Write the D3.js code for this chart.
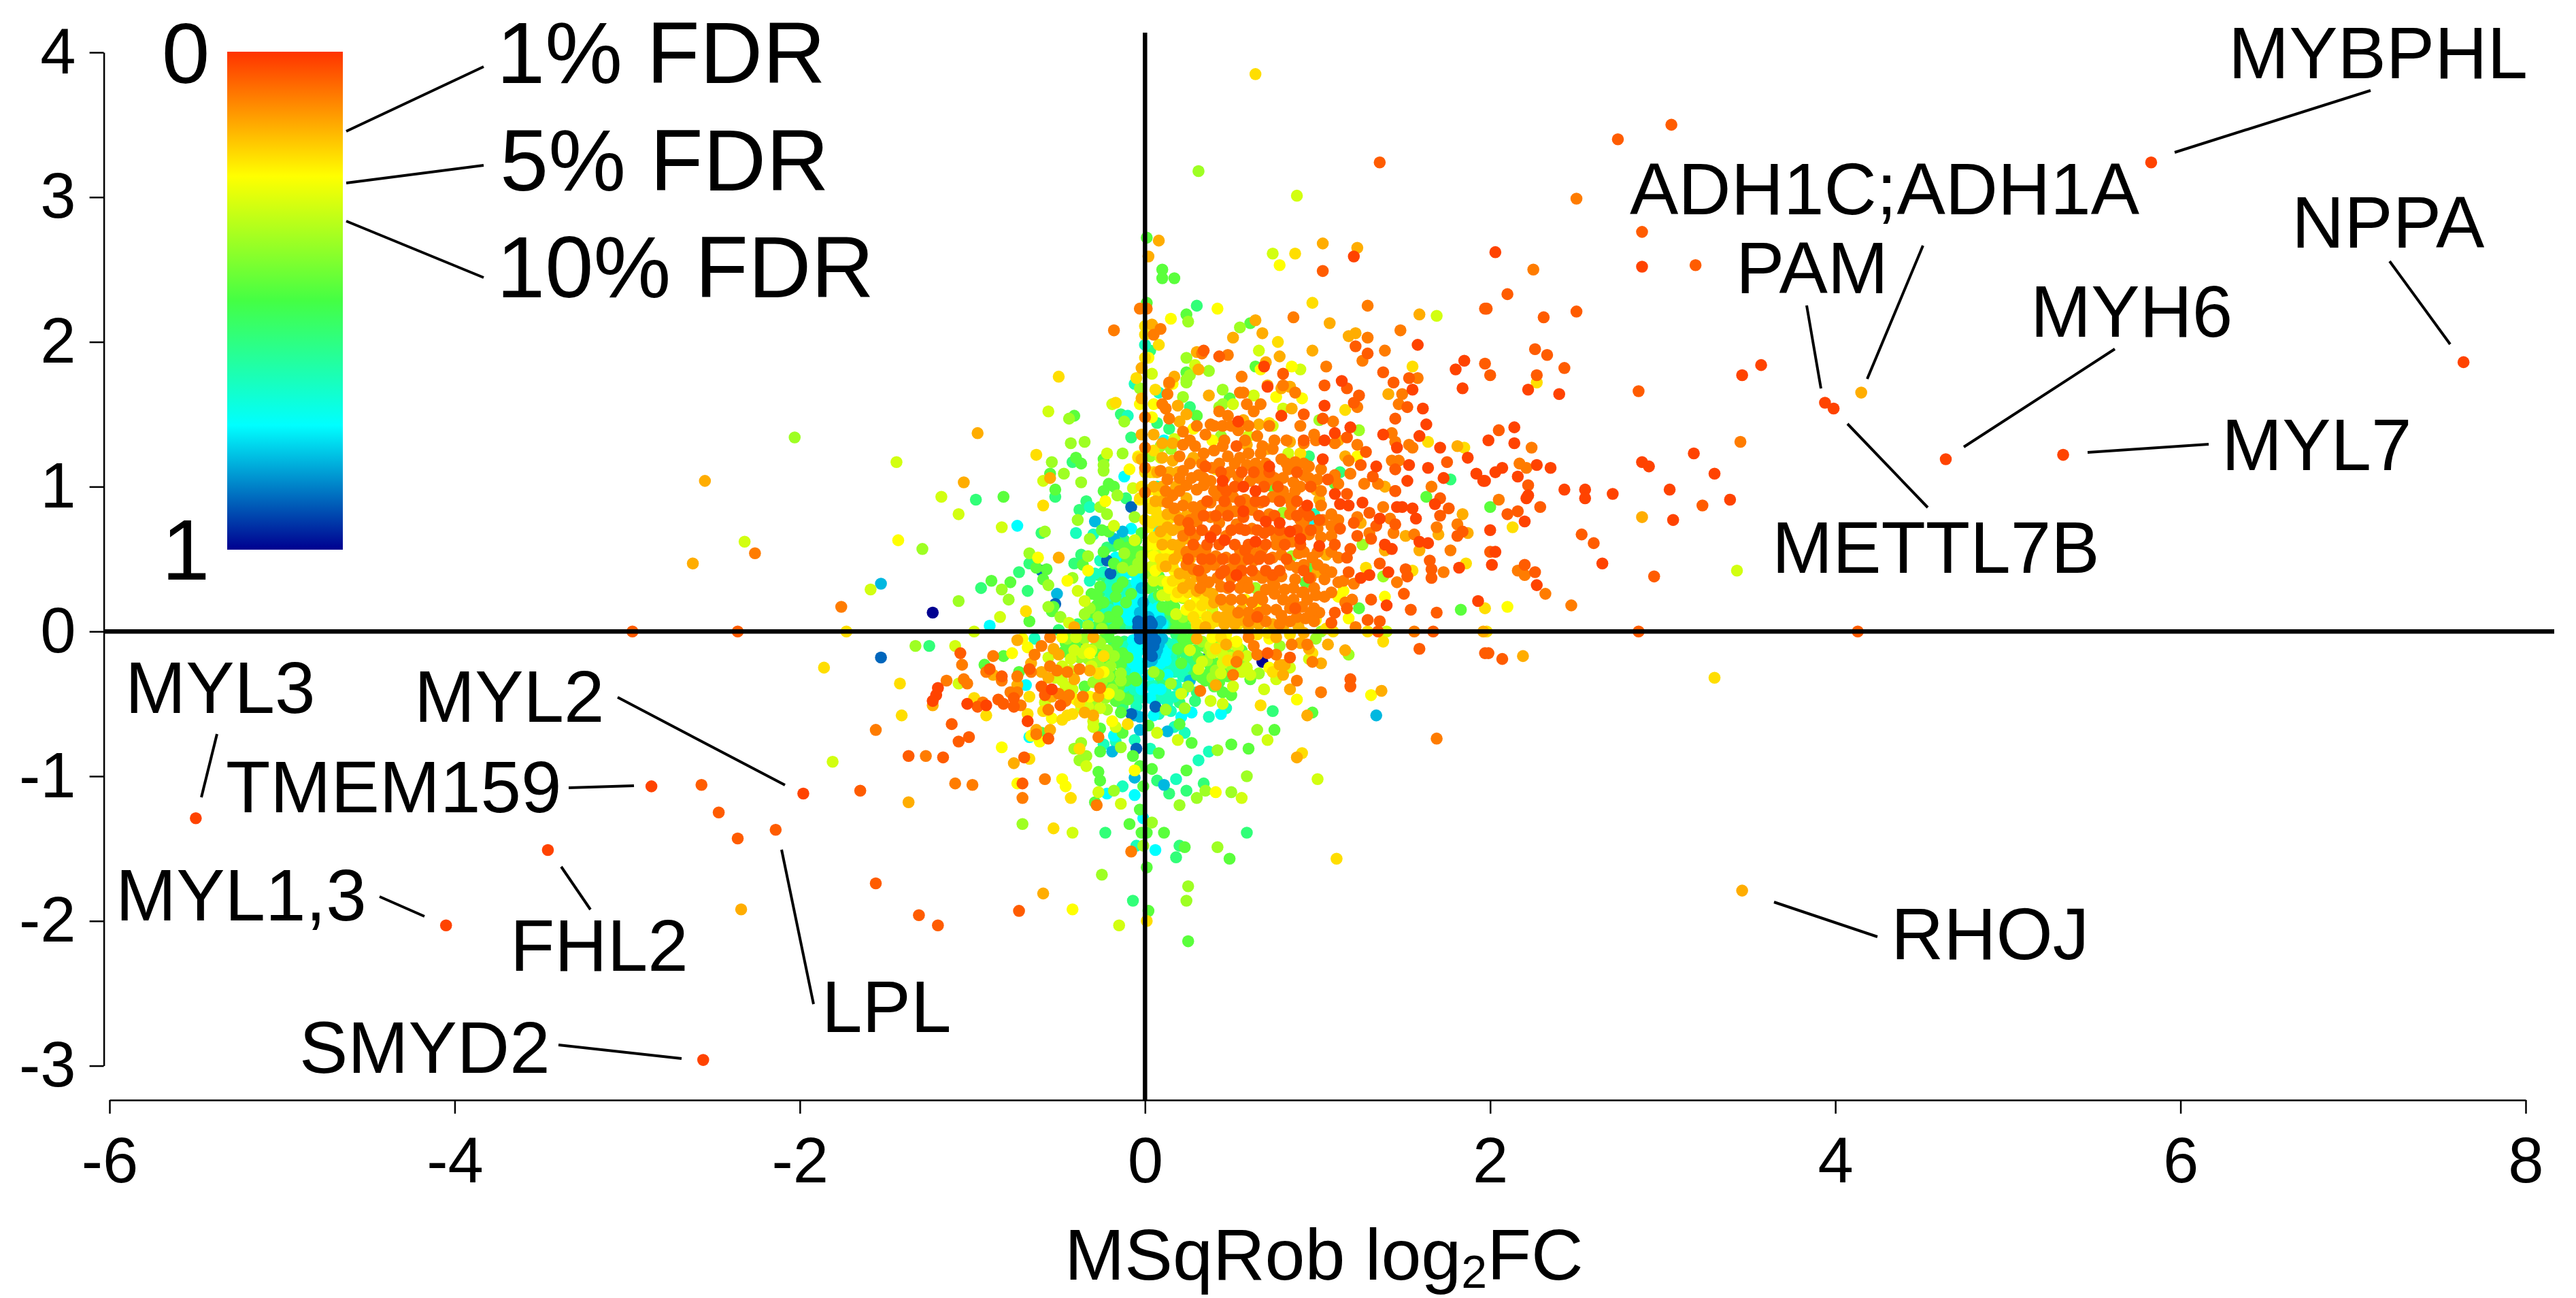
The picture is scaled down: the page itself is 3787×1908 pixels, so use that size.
<!DOCTYPE html>
<html>
<head>
<meta charset="utf-8">
<script src="https://cdn.jsdelivr.net/npm/d3@7"></script>
<style>
  html, body { margin: 0; background: #fff; }
  text { font-family: "Liberation Sans", sans-serif; fill: #000; }
</style>
</head>
<body>
<svg id="chart" width="3787" height="1908"></svg>
<script>
// values, [log2FC, y] per FDR colour band
const deepPts = [[1.84,1.68],[1.55,1.67],[1.61,1.54],[1.71,1.27],[1.87,1.20],[1.53,1.15],[1.64,1.13],[1.73,1.06],[1.52,1.04],[1.92,1.09],[1.96,1.04],[1.34,1.14],[1.63,1.43],[1.46,1.27],[1.03,1.19],[1.04,1.32],[1.04,1.56],[.79,1.49],[.54,1.45],[1.10,1.37],[1.19,1.41],[1.38,1.36],[1.59,1.35],[1.10,.95],[.72,1.14],[.45,1.04],[.57,1.00],[.64,.97],[1.13,.88],[1.18,.87],[1.46,.86],[1.49,.86],[1.55,.85],[1.26,.89],[1.68,.88],[.94,.87],[.57,.83],[.70,.76],[.78,.75],[1.36,.78],[1.57,.78],[.84,.69],[.38,.65],[.46,.63],[.64,.62],[.90,.64],[1.01,.59],[1.39,.60],[1.43,.57],[1.59,.62],[1.64,.61],[.53,.39],[1.30,.39],[1.25,.37],[1.41,.41],[1.40,.18],[1.93,.21],[1.82,.44],[1.14,1.73],[1.58,1.98],[1.21,2.59],[.69,1.83],[.71,1.69],
  [2.22,1.67],[2.40,1.64],[3.18,1.23],[3.30,1.09],[3.39,.91],[3.06,.77],[3.04,.98],[2.88,1.17],[2.92,1.14],[2.71,.95],[2.55,.98],[2.55,.92],[2.43,.98],[2.35,1.13],[2.27,1.15],[2.07,1.13],[2.03,1.10],[2.16,1.07],[2.14,1.30],[2.14,1.41],[1.99,1.32],[1.97,1.04],[2.22,.94],[2.21,.92],[2.20,.76],[2.00,.70],[2.03,.55],[2.01,.46],[2.65,.47],[2.27,.32],[1.80,1.81],[1.85,1.87],[3.46,1.77],[3.57,1.84],[2.88,2.52],[2.03,2.62],[5.83,3.24],[7.64,1.86],[3.94,1.58],[3.99,1.54],[4.64,1.19],[5.32,1.22],[-5.50,-1.29],[-4.05,-2.03],[-3.46,-1.51],[-2.86,-1.07],[-2.56,-2.96],[-1.98,-1.12],[-1.20,-.39],[-1.21,-.44],[-1.23,-.48],[-.92,-.51],[-1.03,-.50],[-.68,-.62],[-.54,-.40]]
const redPts = [[1.24,1.63],[1.21,1.58],[.92,1.50],[1.03,1.47],[1.45,1.47],[1.17,1.34],[.92,1.32],[.53,1.28],[1.28,1.24],[1.75,1.17],[1.25,1.15],[.35,1.14],[1.32,1.07],[1.06,1.05],[.47,.97],[1.17,.95],[1.45,.97],[1.76,.85],[.92,.83],[1.71,.80],[1.30,.82],[1.01,.77],[.25,.75],[1.45,.74],[1.34,.73],[1.21,.75],[1.13,.71],[.69,.68],[.55,.71],[1.84,.69],[1.81,.66],[1.23,.66],[1.31,.64],[1.10,.60],[1.19,.57],[.58,.56],[.67,.52],[1.17,.51],[.25,.50],[1.65,.49],[1.66,.43],[1.66,.37],[1.36,.47],[1.51,.43],[1.52,.38],[1.18,.41],[.95,.37],[.74,.39],[.44,.40],[.49,.31],[1.50,.26],[1.31,.22],[1.54,.15],[1.69,.13],[1.17,.16],[1.10,.13],[.87,.16],[1.08,.06],[.65,.10],[1.36,.07],[1.29,.08],[1.52,1.55],[1.45,.97],[1.71,.92],[1.45,1.12],[.34,1.94],[.43,1.90],[1.04,1.70],[1.17,1.68],[1.44,1.72],[1.97,1.85],[1.97,2.23],[1.53,1.75],[1.38,1.79],[1.03,2.49],[1.36,3.24],[.80,1.78],[1.22,1.97],[1.29,1.92],[2.86,1.66],[2.05,1.39],[2.22,1.01],[2.29,.86],[2.16,.83],[2.10,.81],[2.00,.55],[2.53,.67],[2.60,.61],[2.95,.38],[2.20,.46],[2.26,.41],[3.23,.87],[2.86,0],[1.99,-.15],[2.07,-.19],[2.74,3.40],[3.05,3.50],[2.88,2.76],[3.19,2.53],[2.10,2.33],[1.98,2.23],[2.31,2.17],[2.50,2.21],[2.26,1.95],[2.33,1.91],[2.43,1.82],[2.00,1.77],[2.27,1.77],[4.13,0],[1.67,0],[1.35,0],[1.59,-.12],[1.97,-.15],[.71,-.15],[.84,-.18],[1.19,-.33],[1.19,-.38],[-2.97,0],[-2.57,-1.06],[-2.47,-1.25],[-2.36,-1.43],[-2.14,-1.37],[-1.65,-1.10],[-1.07,-.15],[-1.12,-.64],[-1.02,-.73],[-1.08,-.76],[-1.37,-.86],[-1.17,-.87],[-.70,-.87],[-.71,-1.05],[-.73,-1.93],[-1.56,-1.74],[-1.31,-1.96],[-1.20,-2.03],[-.90,-.26],[-.83,-.31],[-.67,-.26],[-.85,-.47],[-.82,-.50],[-.97,-.52],[-.76,-.46],[-.76,-.52],[-.58,-.44],[-.60,-.38],[-.56,-.74],[-.49,-.51],[-2.36,0],
  [.36,.90],[.46,.90],[.55,.90],[.64,.90],[.69,.90],[.78,.90],[.88,.90],[.34,.80],[.41,.80],[.48,.80],[.57,.79],[.66,.80],[.75,.80],[.88,.80],[.95,.80],[.26,.70],[.33,.70],[.41,.70],[.50,.70],[.58,.70],[.65,.70],[.72,.70],[.78,.70],[.88,.70],[.96,.70],[.28,.60],[.36,.60],[.43,.60],[.52,.60],[.60,.60],[.70,.60],[.81,.60],[.90,.60],[.33,.50],[.38,.50],[.45,.50],[.52,.50],[.60,.50],[.66,.50],[.72,.50],[.82,.50],[.31,.42],[.46,.42],[.56,.42],[.62,.42],[.70,.42],[.78,.42],[.92,.42],[.45,1.00],[.52,1.00],[.69,1.00],[.77,1.00],[.96,1.00],[.44,1.10],[.56,1.10],[.63,1.10],[.72,1.10],[.88,1.10]]
const orangePts = [[.10,1.57],[.12,1.54],[.14,1.47],[.13,1.64],[.22,1.38],[.22,1.29],[.29,1.28],[.35,1.36],[.38,1.43],[.43,1.52],[.45,1.42],[.48,1.49],[.55,1.65],[.57,1.65],[.59,1.57],[.63,1.52],[.67,1.57],[.54,1.39],[.65,1.35],[.68,1.28],[.87,1.65],[.98,1.36],[.99,1.32],[1.09,1.45],[1.23,1.55],[1.49,1.64],[1.47,1.57],[1.43,1.37],[1.45,1.31],[1.53,1.29],[1.55,1.27],[1.23,1.29],[1.18,1.18],[1.43,1.18],[1.47,1.18],[1.19,1.09],[1.35,1.02],[1.27,1.02],[1.66,1.00],[1.38,.86],[1.23,.79],[1.42,.78],[1.44,.68],[1.30,.68],[1.56,.67],[1.69,.72],[1.81,.74],[1.77,.56],[1.46,.34],[1.73,.41],[1.21,.33],[1.15,.35],[1.12,.34],[1.16,.20],[1.20,.22],[.98,.16],[1.01,.13],[1.08,.27],[1.04,.24],[.99,.25],[.91,.27],[.80,.22],[.75,.26],[.70,.29],[.62,.20],[.66,.24],[.70,.15],[.79,.11],[.84,.16],[.91,.17],[.88,.10],[.93,.09],
  [.20,1.21],[.34,1.23],[.40,1.25],[.45,1.28],[.48,1.21],[.55,1.20],[.60,1.23],[.67,1.23],[.74,1.26],[.79,1.19],[.87,1.17],[.95,1.14],[.09,1.11],[.22,1.11],[.31,1.08],[.39,1.13],[.49,1.10],[.59,1.15],[.67,1.10],[.75,1.06],[.83,1.12],[.92,1.08],[1.00,1.05],[.13,1.05],[.24,1.01],[.30,.98],[.34,1.01],[.38,1.04],[.54,1.07],[.61,1.04],[.71,1.04],[.86,1.03],[.90,1.00],[.16,.94],[.38,.89],[.42,.94],[.51,.93],[.58,.91],[.67,.89],[.74,.93],[.79,.96],[.83,.92],[.85,.87],[.13,.89],[.17,.85],[.28,.86],[.30,.80],[.38,.79],[.44,.84],[.52,.83],[.62,.84],[.72,.81],[.84,.81],[1.08,.81],[.30,.76],[.43,.75],[.53,.74],[.62,.71],[.76,.65],[.81,.65],[.92,.70],[1.00,.71],[1.08,.73],[.30,.57],[.35,.56],[.41,.52],[.47,.51],[.55,.56],[.68,.57],[.76,.60],[.85,.62],[.95,.67],[1.02,.65],[.28,.43],[.35,.44],[.42,.49],[.49,.43],[.57,.49],[.63,.49],[.74,.51],[.79,.53],[.89,.54],[.97,.51],[1.12,.51],[.37,.34],[.44,.31],[.59,.34],[.64,.39],[.79,.38],[.87,.36],[.88,.44],[1.04,.43],[1.08,.41],[1.04,.36],[.81,.29],[.92,.27],
  [1.22,.03],[1.56,0],[.85,-.09],[.94,-.09],[.60,-.04],[.63,-.10],[.65,-.16],[.76,-.16],[.97,-.21],[.53,-.21],[.51,-.30],[.32,-.41],[.88,-.34],[1.02,-.42],[1.69,-.74],[.86,2.17],[.01,2.23],[1.48,2.08],[1.29,2.25],[1.29,2.03],[1.26,1.87],[1.39,1.94],[.33,1.92],[.48,1.91],[.14,1.72],[1.05,1.83],[.56,1.76],[.80,1.70],[1.58,1.75],[.09,2.09],[.05,2.05],[3.45,1.31],[2.21,1.13],[2.17,1.16],[2.24,1.27],[2.05,.91],[2.16,.42],[2.20,.39],[2.32,.26],[2.47,.18],[2.50,2.99],[2.25,2.50],[-.18,2.08],[-.03,2.23],[0,1.48],[0,1.27],[0,1.13],[0,.96],
  [-2.26,.54],[-1.76,.17],[-1.56,-.68],[-1.27,-.86],[-1.10,-1.05],[-1.00,-1.06],[-.58,-1.02],[-.71,-1.15],[-.28,-1.20],[-.08,-1.52],[-1.06,-.23],[-1.15,-.34],[-.27,-.73],[-.36,-.45],[-.26,-.39],[-.45,-.28],[-.51,-.27],[-.55,-.24],[-.64,-.16],[-.60,-.10],[-.55,-.04],[-.88,-.17],[-.83,-.34],[-.66,-.28],[-.74,-.31],[-.74,-.42],[-.72,-.51],[-1.05,-.33],[-1.03,-.36],[-.63,-.71],[-.56,-.54],[-.46,-.48],[-.50,-.43],[-.44,-.44],[-.38,-.26],[-.94,-.49],[-.92,-.28],[-.78,-.42],
  [.30,1.42],[.40,1.42],[.50,1.42],[.60,1.42],[.72,1.42],[.90,1.42],[.26,1.32],[.46,1.32],[.58,1.32],[.75,1.32],[.82,1.32],[.92,1.30],[1.10,1.30],[.26,1.16],[.33,1.16],[.43,1.16],[.52,1.16],[.64,1.16],[.70,1.16],[.82,1.16],[.92,1.16],[1.02,1.12],[.20,1.06],[.27,1.06],[.34,1.06],[.46,1.06],[.66,1.06],[.80,1.06],[.95,1.06],[1.10,1.08],[.12,.97],[.20,.97],[.40,.97],[.80,.97],[.87,.97],[1.02,.97],[1.12,1.02],[.22,.87],[.33,.87],[.47,.87],[.60,.87],[.92,.76],[1.02,.87],[.20,.77],[.26,.77],[.90,.77],[1.03,.77],[1.12,.77],[.22,.66],[.29,.66],[.38,.66],[.47,.66],[1.08,.66],[.24,.55],[.30,.55],[.62,.55],[.92,.55],[1.00,.55],[1.08,.55],[.24,.46],[.40,.46],[.52,.46],[.84,.46],[.92,.46],[1.00,.46],[.33,.37],[.42,.37],[.50,.37],[.56,.37],[.68,.37],[.74,.35],[.96,.37],[.32,.30],[.48,.30],[.55,.30],[.60,.30],[.75,.32],[.86,.30],[.98,.30],[.44,.22],[.50,.22],[.56,.22],[.68,.22],[.86,.22],[.94,.22],[.54,.13],[.60,.13],[.66,.13],[.76,.15],[.96,.13],[.60,.07],[.70,.07],[.78,.05],[.84,.07],[.98,.07]]
const amberPts = [[.14,1.71],[.37,1.63],[.79,1.68],[.84,1.69],[.85,1.54],[.57,1.46],[.84,1.31],[1.12,1.32],[1.16,1.21],[1.41,1.64],[1.39,1.00],[1.25,.75],[1.51,.66],[1.70,.67],[1.87,.68],[1.84,.81],[1.59,.56],[1.39,.56],[.24,1.50],[.20,1.45],[.05,1.36],[.19,1.56],[.07,1.10],[.16,1.18],[.13,.81],[.09,.69],[.16,.70],[.23,.64],[.20,.54],[.12,.45],[.26,.33],[.32,.37],[.39,.26],[.49,.15],[.51,.10],[.56,.15],[.60,.04],[.80,.03],[.89,.03],[1.00,.41],[1.05,.53],[1.01,.91],[.99,.98],[.71,1.26],[.59,1.29],[.66,1.43],[.35,.03],[1.96,0],[1.81,1.28],
  [.90,-.08],[1.06,-.09],[1.16,-.13],[1.02,-.22],[.30,-.05],[.47,-.09],[.54,-.17],[.41,-.37],[.84,-.40],[1.37,-.41],[.88,-.87],[.94,-.58],[.78,-.23],[.81,-.23],[.80,-.30],[.92,-.01],[1.03,2.68],[1.23,2.65],[.08,2.70],[.02,2.59],[1.07,2.13],[.64,2.15],[.68,2.06],[.51,2.03],[.04,2.12],[1.18,2.04],[1.22,2.06],[.97,1.94],[.78,1.90],[.30,1.93],[.31,1.81],[.17,1.76],[.70,1.86],[.71,1.70],[.84,1.69],[1.59,2.19],[2.88,.79],[2.19,-.17],[4.15,1.65],[3.46,-1.79],[-.02,1.82],[-.02,1.61],[-.02,1.36],[-.02,1.19],
  [-2.55,1.04],[-2.62,.47],[-2.34,-1.92],[-.97,1.37],[-1.05,1.03],[-.55,1.06],[-.50,.51],[-.41,.03],[-1.37,-1.18],[-.76,-.91],[-.59,-1.81],[-.74,-.06],[-.30,-.04],[-.60,-.28],[-.56,-.32],[-.41,-.33],[-.50,-.16],[-.53,-.12],[-.88,-.30],[-.66,-.22],[-.74,-.37],[-.54,-.45],[-.63,-.68],[-.55,-.68],[-.35,-.56],[-.30,-.58],[-.27,-.45],[-.32,-.27],[-1.23,-.51],
  [.10,1.30],[.16,1.30],[.10,1.20],[.28,1.20],[.14,1.10],[.19,1.10],[.05,1.00],[.10,1.00],[.18,1.00],[.06,.90],[.10,.90],[.24,.92],[.18,.80],[.24,.80],[.13,.72],[.20,.72],[.10,.60],[.16,.60],[.20,.60],[.17,.50],[.26,.50],[.20,.40],[.24,.40],[.30,.38],[.22,.30],[.30,.28],[.36,.28],[.40,.20],[.46,.18],[.42,.10],[.46,.10],[.56,.08],[.46,.05],[.52,.05],[.66,.05],[.74,.05],[.76,-.04],[.95,-.12]]
const goldPts = [[.06,1.67],[1.16,1.53],[.72,1.44],[1.64,1.31],[1.85,1.27],[.90,1.23],[1.28,.44],[1.55,.42],[1.86,.47],[1.05,.53],[.41,1.12],[.14,.78],[.07,.81],[.26,.70],[.22,.52],[.35,.23],[.38,.19],[.41,.07],[.45,.07],[.48,.12],[.54,.05],[.33,.02],[1.05,.02],[1.09,0],[.71,-.01],[.84,-.02],[1.29,0],[1.38,-.07],[.97,-.15],[.48,-.20],[.41,-.12],[.44,-.04],[.74,-.28],[.67,-.51],[.91,-.84],[1.11,-1.57],[.64,3.85],[.87,2.61],[.97,2.27],[.77,2.00],[.08,1.98],[1.55,1.83],[2.27,1.72],[2.13,.72],[3.30,-.32],[1.97,.16],[1.98,0],[.01,-2.00],[-.50,1.76],[-.05,1.75],[0,1.89],[0,2.11],[0,2.05],[-.03,.92],[0,.77],[-1.73,0],[-1.86,-.25],[-1.42,-.36],[-1.41,-.58],[-.63,1.22],[-.59,.87],[-.17,1.58],[-.04,1.20],[-.69,.14],[-.67,-.88],[-.43,-1.15],[-.53,-1.36],[-.67,-.45],[-.92,-.58],[-.68,-.57],[-.59,-.55],[-.48,-.61],[-.45,-.58],[-.42,-.57],[-.38,-.49],[-.24,-.17],[-.27,-.29],[-.10,-.64],[-.38,-.81],[-.99,-.46],
  [.05,1.25],[.03,1.10],[.05,1.10],[.08,.95],[.03,.85],[.06,.85],[.10,.75],[.04,.75],[.12,.65],[.05,.65],[.09,.50],[.12,.50],[.16,.45],[.10,.45],[.16,.35],[.21,.35],[.19,.27],[.25,.27],[.31,.27],[.26,.18],[.33,.18],[.28,.10],[.36,.10],[.30,.05],[.38,.05],[.60,0],[.65,-.02],[-.02,1.00],[0,1.10]]
const yellowPts = [[.91,1.61],[.76,1.62],[1.23,1.21],[.27,1.18],[.39,1.32],[.28,1.40],[.05,1.57],[.04,1.48],[1.39,.24],[1.18,.09],[.99,.08],[1.15,.28],[.12,.57],[.05,.52],[.17,.56],[.17,.42],[.13,.34],[.19,.34],[.30,.22],[.32,.14],[.58,.22],[.64,.17],[1.12,.24],[.03,.98],[.04,.89],[.39,-.04],[.47,-.02],[.72,-.25],[1.31,-.44],[.88,-.47],[.41,-1.11],[.78,2.53],[.42,2.23],[.15,2.16],[.16,1.71],[.02,1.89],[.85,1.83],[.67,1.81],[2.10,.17],[-.03,1.57],[-.04,1.21],[-.09,1.12],[-.03,.91],[-1.43,.63],[-.62,.51],[-.23,.90],[-.33,.42],[-.45,.35],[-.83,-.80],[-.74,-1.05],[-.48,-1.02],[-.46,-1.07],[-.42,-1.92],[-.06,-.96],[-.19,-.62],[-.21,-.43],[-.32,-.45],[-.24,-.28],[-.32,-.15],[-.48,-.04],[-.77,-.15],[-.71,-.05],[-.68,-.11],[-.54,-.60],[-.61,-.76],[-.66,-.72],[-.40,-.47],
  [.02,.60],[.06,.60],[.02,.72],[.06,.42],[.14,.30],[.18,.24],[.22,.24],[.24,.15],[.28,.15],[.30,.06],[.34,.06],[.72,-.05],[.53,-.07]]
const limePts = [[.17,1.33],[.09,1.20],[.63,1.63],[.51,1.57],[.80,1.54],[.74,1.42],[.60,1.35],[.83,1.23],[.04,.63],[.08,.63],[.04,.76],[.08,.48],[.13,.50],[.39,.15],[1.40,0],[.54,-.11],[.21,-.43],[.38,-.48],[.45,-.50],[.51,-.38],[.69,-.40],[.31,-.26],[.33,-.21],[.26,-.13],[.44,-.29],[.39,-.15],[.45,-.16],[.59,-.25],[.61,-.30],[.56,-.28],[.59,-.17],[.76,-.33],[.84,-.25],[.95,-.19],[.07,-.70],[.71,-.75],[.19,-.75],[1.00,-1.02],[.56,-1.15],[.88,3.01],[.74,2.61],[1.69,2.18],[.66,1.94],[.90,1.81],[.29,1.84],[.04,1.78],[3.43,.42],[-1.44,1.17],[-.56,1.52],[-.19,1.57],[-.07,.99],[-.22,1.23],[-.59,1.04],[-1.18,.93],[-1.08,.81],[-.83,.72],[-.18,.73],[-.06,.63],[-.35,.21],[-.39,.28],[-.44,.06],[-.84,.10],[-.99,0],[-1.10,-.10],[-1.81,-.90],[-2.32,.62],[-1.59,.29],[-.34,-.93],[-.42,-1.39],[-.15,-2.03],[-.27,-1.11],[-.14,-1.19],[-.30,-.66],[-.30,-.62],[-.26,-.53],[-.17,-.66],[-.31,-.24],[-.48,-.34],[-.46,-.38],[-.48,-.24],[-.43,-.19],[-.56,-.18],[-1.08,-.36],[-.58,-.49],[-.34,-.12],
  [.03,.55],[.07,.55],[.04,.45],[.05,.35],[.10,.35],[.13,.25],[.10,.25],[.18,.12],[.30,.03],[.38,-.10],[.44,-.11],[.50,-.08],[.45,-.22],[.50,-.18],[-.36,-.15],[-.31,-.13],[-.41,-.13],[-.40,-.04],[-.43,-.27],[-.42,-.40],[-.33,-.52],[-.37,-.53],[-.52,-.32],[-.49,-.28]]
const chartPts = [[.24,1.72],[.45,1.67],[.45,1.57],[.22,1.62],[1.01,1.46],[1.24,1.39],[.44,1.35],[.15,1.26],[.43,1.55],[.09,1.28],[.03,1.21],[.80,.82],[.85,.52],[1.26,.60],[1.38,.38],[.12,.67],[.07,.89],[.03,.40],[.16,.29],[.22,.23],[.22,.10],[.33,.10],[.64,.30],[1.18,-.16],[.78,-.10],[.99,-.05],[.05,-.28],[.15,-.36],[.25,-.38],[.23,-.53],[.12,-.54],[.39,-.32],[.66,-.29],[.65,-.68],[.59,-1.00],[.42,-.82],[.35,-1.10],[.50,-1.11],[.30,-1.15],[.20,-1.20],[.04,-1.32],[.42,-1.49],[.25,-1.76],[.24,-1.86],[1.02,0],[.31,3.18],[.25,2.14],[.55,2.10],[.24,1.89],[.37,1.80],[.26,1.77],[.24,1.74],[-2.03,1.34],[-.44,1.47],[-.03,1.68],[-.12,1.45],[-.43,1.30],[-.35,1.31],[-.54,1.17],[-.13,1.23],[-.24,1.15],[-.24,1.11],[-.47,1.09],[-.37,1.03],[-.16,.94],[-.26,.86],[-.22,.81],[-.39,.77],[-.06,.79],[-1.29,.57],[-.58,.69],[-.32,.64],[-.67,.54],[-.33,.52],[-.12,.54],[-.13,.44],[-.04,.47],[-.56,.32],[-.42,.37],[-.83,.29],[-.79,.22],[-.56,.17],[-.32,.16],[-.27,.10],[-.49,.10],[-1.08,.21],[-1.33,-.10],[-.71,-1.33],[-.25,-1.68],[-.18,-1.10],[-.14,-.80],[-.41,-.81],[-.37,-.77],[-.34,-.86],[-.38,-.89],[-.22,-.54],[-.15,-.44],[-.14,-.34],[-.14,-.29],[-.21,-.31],[-.20,-.24],[-.18,-.17],[-.26,-.08],[-.45,-.05],[-.35,-.05],[-.38,-.18],[-.01,-1.48],
  [-.02,.52],[-.03,.44],[-.07,.42],[-.35,.12],[-.33,.04],[-.25,.02],[.33,-.07],[.37,-.13],[.42,-.07],[.36,-.20],[.41,-.27],[.47,-.14],[.53,-.15],[.54,-.26],[.50,-.24],[.57,-.21],[-.28,-.06],[-.22,-.13],[-.27,-.21],[-.33,-.19],[-.23,-.26],[-.19,-.40],[-.23,-.46],[-.30,-.35],[-.25,-.35],[-.29,-.50]]
const greenPts = [[.49,1.61],[.30,1.49],[.74,1.00],[1.10,1.02],[.96,.45],[.93,.34],[1.63,.93],[1.83,.15],[1.24,.16],[.08,.38],[.04,.31],[.10,.32],[.15,.21],[.14,.15],[.26,.10],[.25,.02],[.21,-.22],[.22,-.05],[.19,-.12],[.45,-.42],[.50,-.44],[.35,-.34],[.37,-.29],[.42,-.22],[.46,-.26],[.61,-.33],[.56,-.13],[.75,-.68],[.97,-.56],[.60,-.81],[.50,-.78],[.24,-.96],[.27,-.77],[.20,-.64],[.08,-.84],[.04,-.95],[.11,-1.39],[.23,-1.49],[.49,-1.57],[.25,-2.14],[.02,-1.93],[.01,-1.63],[.01,-1.39],[.02,-.65],[.01,2.72],[.10,2.50],[.10,2.44],[.17,2.44],[.01,2.27],[.24,2.19],[.61,2.13],[.24,1.79],[.64,1.83],[2.00,.86],
  [-.41,1.49],[-.37,1.16],[-.40,1.20],[-.24,1.19],[-.55,1.09],[-.21,1.02],[-.18,1.00],[-.24,.97],[-.82,.93],[-.52,.98],[-.25,.70],[-.21,.69],[-.24,.55],[-.15,.60],[-.08,.52],[-.18,.47],[-.36,.46],[-.63,.44],[-.57,.43],[-.59,.36],[-.89,.35],[-.78,.34],[-.31,.26],[-.26,.31],[-.16,.30],[-.17,.24],[-.24,.20],[-.28,.18],[-.53,.17],[-.54,.14],[-.67,.07],[-.16,.07],[-.26,-1.03],[-.27,-.97],[-.07,-.86],[-.26,-.83],[-.13,-.70],[-.14,-.56],[-.26,-.67],[-.10,-.47],[-.05,-.34],[-.09,-1.33],[-.03,-1.23],[-.01,-1.07],[-.02,-1.39],[-.03,-.93],[-.35,-.38],[-.42,-.09],[-.21,-.04],[-.16,-.07],[-.13,-.15],[-.14,-.23],[-.20,-.37],[-.82,-.17],[-.93,-.23],[-.73,-.28],[-.60,-.70],[-.29,-1.18],
  [.08,.25],[.10,.17],[.17,.17],[.18,.08],[.22,.08],[.18,.02],[.22,.02],[.02,.30],[.27,-.05],[.24,-.11],[.29,-.13],[.34,-.10],[.31,-.18],[.38,-.24],[.33,-.32],[.40,-.38],[.43,-.35],[.48,-.31],[.30,-.30],[-.10,.58],[-.06,.58],[-.10,.47],[-.28,.25],[-.21,.10],[-.30,.13],[-.26,.06],[-.18,.02],[-.05,.63],[-.03,.55],[-.02,.68],[-.23,-.04],[-.18,-.12],[-.21,-.20],[-.26,-.16],[-.30,-.12],[-.18,-.30],[-.15,-.38],[-.11,-.34],[-.17,-.48],[-.13,-.46],[-.40,-.10],[-.46,-.08],[-.47,-.14],
  [-.13,.34],[-.08,.26],[-.16,.14],[-.11,.20],[-.06,.46],[-.10,-.18],[-.06,-.32],[.08,-.30]]
const springPts = [[.07,1.44],[.26,1.55],[.14,1.40],[.07,.34],[.20,.05],[.13,.07],[.74,-.55],[.09,-.35],[.20,-.49],[.14,-1.12],[.24,-1.10],[.34,-1.05],[.07,-1.03],[.59,-1.39],[.20,-1.48],[.18,-1.56],[.30,2.25],[.03,1.94],[-.98,.91],[-.14,1.50],[-.08,1.34],[-.42,1.17],[-.52,.93],[-.11,.92],[-.34,.90],[-.38,.84],[-.60,.68],[-.12,.63],[-.18,.59],[-.67,.47],[-.41,.47],[-.37,.53],[-.73,.41],[-.95,.30],[-.68,.28],[-.26,.27],[-.11,.04],[-.39,.05],[-.50,.01],[-1.25,-.10],[-.23,-1.39],[-.07,-1.86],[-.45,-.13],[-.12,-.07],[-.38,-.10],[-.10,-.31],[-.08,-.40],[-.13,-.52],[1.77,1.05],[.95,1.21],[1.13,1.10],
  [.06,.20],[.09,.13],[.13,.13],[.16,.07],[.14,.02],[.03,.17],[.18,-.15],[.20,-.06],[.12,-.32],[.18,-.02],[.24,-.17],[.25,-.27],[.27,-.21],[.26,-.30],[.30,-.42],[.29,-.48],[-.27,.39],[-.22,.35],[-.16,.40],[-.19,.21],[-.25,.13],[-.13,.04],[-.22,.04],[-.29,.03],[-.15,.50],[-.22,.58],[-.14,-.10],[-.18,-.08],[-.16,-.20],[-.12,-.26],[-.07,-.46],[-.10,-.40]]
const tealPts = [[.98,.81],[.07,1.00],[.08,1.65],[.05,.23],[.11,.16],[.16,-.09],[.13,-.23],[.17,-.28],[.22,-.31],[.09,-.46],[.04,-.37],[.17,-.45],[.08,-.57],[.15,-.55],[.37,-.59],[.47,-.53],[.37,-.83],[.31,-.89],[.23,-.70],[.17,-.66],[.03,-.81],[.18,-1.02],[0,1.98],[-.06,1.71],[-.10,1.49],[-.40,.68],[-.32,.86],[-.30,.67],[-.26,.49],[-.24,.41],[-.29,.40],[-.32,.35],[-.20,.34],[-.10,.32],[-.12,.23],[-.03,.29],[-.20,.15],[-.33,.09],[-.13,-1.07],[-.06,-.75],[-.17,-.76],[-.24,-.78],[-.05,-1.48],[-.64,-.05],[-.09,-.24],[-.09,-.15],[-.03,-.46],[-.05,-.52],
  [.04,.12],[.11,.05],[.08,.02],[.10,-.27],[.13,-.08],[.15,-.17],[.17,-.22],[.07,-.42],[.12,-.42],[.18,-.37],[.13,-.49],[.20,-.28],[.23,-.25],[.22,-.42],[-.15,.36],[-.09,.42],[-.20,.25],[-.22,.30],[-.13,.30],[-.19,.08],[-.14,.10],[-.23,.12],[-.08,.03],[-.03,.36],[-.02,.40],[-.10,-.10],[-.12,-.12],[-.11,-.20],[-.06,-.40],[-.08,-.30],[-.12,-.38],[-.03,-.42]]
const cyanPts = [[.95,.75],[.05,.73],[.11,1.32],[.05,.14],[.04,.10],[.09,-.22],[.12,-.15],[.05,-.58],[.21,-.59],[.27,-.56],[.44,-.57],[.37,-.22],[.06,-1.51],[-.74,.73],[-.12,1.07],[-.08,.71],[-.17,.51],[-.11,.40],[-.07,.27],[-.12,.16],[-.08,.12],[-.90,.04],[-.69,-.37],[-.67,-.73],[-.18,-.72],[-.22,-1.12],[-.06,-1.13],[-.01,-1.29],[-.07,-.06],[-.05,-.16],[-.03,-.26],[-.04,-.21],
  [.02,.16],[.07,.16],[.08,.10],[.10,.05],[.06,-.22],[.03,-.30],[.07,-.28],[.10,-.12],[.12,-.20],[.05,-.40],[.09,-.40],[.13,-.30],[.03,-.46],[-.06,.40],[-.09,.22],[-.05,.18],[-.13,.12],[-.05,.34],[-.03,.22],[-.15,.20],[-.09,.08],[-.06,.15],[-.02,-.12],[-.05,-.10],[-.07,-.12],[-.07,-.22],[-.05,-.28],[-.03,-.34],[-.02,-.40]]
const skyPts = [[.07,.04],[.09,.07],[.08,-.09],[.10,-.05],[.07,-.13],[.03,-.16],[.26,-.34],[.13,-.69],[.11,-1.06],[1.34,-.58],[-1.53,.33],[-.51,.26],[-.29,.76],[-.13,.69],[-.18,.64],[-.03,.13],[-.19,-.83],[-.06,-1.01],[-.06,-.58],[-.03,-.59],[-.03,-.68],[.05,.02],[.02,.10],[.02,.03],[.06,-.16],[.02,-.21],[.04,-.20],[-.01,.20],[-.02,.30]]
const bluePts = [[.04,.05],[.03,.07],[.03,-.05],[.05,-.10],[.37,-.17],[.06,-.52],[-.52,.19],[-.20,.40],[-.08,.86],[-.22,.49],[-.60,.42],[-.04,.07],[-.01,.04],[-1.53,-.18],[-.05,-.81],[-.08,-.57],[-.03,-.05],[-.03,-.02],[-.37,-.11],[.02,0],[.03,.03],[.04,-.02],[.01,.01],[.02,-.08],[.04,-.03],[.06,-.06],[.02,-.12],[.04,-.17],[-.02,.02],[-.04,.03]]
const navyPts = [[.68,-.21],[-1.23,.13]]

const bandValues = { spring: .57, teal: .66, cyan: .75, sky: .82, blue: .9, navy: 1, green: .47, chart: .38, lime: .31, yellow: .25, gold: .21, amber: .15, orange: .09, red: .05, deep: .02 }
const xTicks = [-6, -4, -2, 0, 2, 4, 6, 8]
const yTicks = [-3, -2, -1, 0, 1, 2, 3, 4]
const colourStops = [0, .125, .25, .5, .75, 1]
const colourValues = ['#ff3300', '#ff9900', '#ffff00', '#44ff44', '#00ffff', '#000090']
const legendRows = [
  { text: '1% FDR', tx: 730, ty: 122, line: [509, 193, 711, 98] },
  { text: '5% FDR', tx: 735, ty: 280, line: [509, 269, 711, 243] },
  { text: '10% FDR', tx: 730, ty: 437, line: [509, 325, 711, 408] },
]
const genes = [
  { name: 'MYBPHL', tx: 3276, ty: 115, line: [3197, 224, 3485, 133] },
  { name: 'ADH1C;ADH1A', tx: 2396, ty: 315, line: [2827, 361, 2745, 557] },
  { name: 'NPPA', tx: 3369, ty: 364, line: [3513, 384, 3602, 506] },
  { name: 'PAM', tx: 2552, ty: 431, line: [2656, 449, 2677, 571] },
  { name: 'MYH6', tx: 2985, ty: 495, line: [3109, 513, 2887, 657] },
  { name: 'MYL7', tx: 3266, ty: 691, line: [3069, 665, 3247, 653] },
  { name: 'METTL7B', tx: 2605, ty: 842, line: [2716, 623, 2834, 746] },
  { name: 'RHOJ', tx: 2780, ty: 1410, line: [2608, 1326, 2760, 1377] },
  { name: 'MYL3', tx: 184, ty: 1048, line: [319, 1079, 296, 1172] },
  { name: 'MYL2', tx: 609, ty: 1061, line: [908, 1025, 1154, 1154] },
  { name: 'TMEM159', tx: 332, ty: 1194, line: [836, 1158, 932, 1155] },
  { name: 'MYL1,3', tx: 170, ty: 1353, line: [558, 1318, 624, 1347] },
  { name: 'FHL2', tx: 750, ty: 1427, line: [825, 1274, 868, 1337] },
  { name: 'LPL', tx: 1208, ty: 1517, line: [1149, 1249, 1196, 1476] },
  { name: 'SMYD2', tx: 440, ty: 1577, line: [821, 1536, 1002, 1556] },
]

const bands = [
  [bandValues.spring, springPts], [bandValues.teal, tealPts], [bandValues.cyan, cyanPts],
  [bandValues.sky, skyPts], [bandValues.blue, bluePts], [bandValues.navy, navyPts],
  [bandValues.green, greenPts], [bandValues.chart, chartPts], [bandValues.lime, limePts],
  [bandValues.yellow, yellowPts], [bandValues.gold, goldPts], [bandValues.amber, amberPts],
  [bandValues.orange, orangePts], [bandValues.red, redPts], [bandValues.deep, deepPts],
]

const svg = d3.select('#chart')
const x = d3.scaleLinear().domain([-6, 8]).range([161, 3713])
const y = d3.scaleLinear().domain([-3, 4]).range([1566.6, 77])
const color = d3.scaleLinear().domain(colourStops).range(colourValues)

// dots
svg.append('g')
  .selectAll('g')
  .data(bands)
  .join('g')
  .attr('fill', (d) => color(d[0]))
  .selectAll('circle')
  .data((d) => d[1])
  .join('circle')
  .attr('cx', (d) => x(d[0]))
  .attr('cy', (d) => y(d[1]))
  .attr('r', 8.8)

// zero lines sit on top of the dots
svg.append('line')
  .attr('x1', 152).attr('x2', 3755)
  .attr('y1', y(0)).attr('y2', y(0))
  .attr('stroke', '#000').attr('stroke-width', 6.5)
svg.append('line')
  .attr('x1', x(0)).attr('x2', x(0))
  .attr('y1', 48).attr('y2', 1617)
  .attr('stroke', '#000').attr('stroke-width', 6.5)

// axes
const xAxis = svg.append('g')
  .attr('transform', 'translate(0,1617)')
  .call(d3.axisBottom(x).tickValues(xTicks).tickFormat(String).tickSize(20).tickSizeOuter(0).tickPadding(34))
const yAxis = svg.append('g')
  .attr('transform', 'translate(152.6,0)')
  .call(d3.axisLeft(y).tickValues(yTicks).tickFormat(String).tickSize(21).tickSizeOuter(0).tickPadding(20))
for (const axis of [xAxis, yAxis]) {
  axis.selectAll('path, line').attr('stroke', '#000').attr('stroke-width', 2.5)
  axis.selectAll('text').style('font-family', '"Liberation Sans", sans-serif').style('font-size', '94px').attr('fill', '#000')
}

// axis title, pieces placed one after the other so the subscript can drop
const titleA = svg.append('text').attr('x', 1565).attr('y', 1881).style('font-size', '106px').text('MSqRob log')
const subX = 1565 + titleA.node().getComputedTextLength()
const titleSub = svg.append('text').attr('x', subX).attr('y', 1893).style('font-size', '68px').text('2')
svg.append('text')
  .attr('x', subX + titleSub.node().getComputedTextLength())
  .attr('y', 1881)
  .style('font-size', '106px')
  .text('FC')

// colour legend
const grad = svg.append('defs').append('linearGradient')
  .attr('id', 'fdr-grad')
  .attr('x1', 0).attr('x2', 0).attr('y1', 0).attr('y2', 1)
grad.selectAll('stop')
  .data(colourStops)
  .join('stop')
  .attr('offset', (d) => d)
  .attr('stop-color', (d) => color(d))
svg.append('rect')
  .attr('x', 334).attr('y', 76)
  .attr('width', 170).attr('height', 732)
  .attr('fill', 'url(#fdr-grad)')
svg.append('text').attr('x', 273).attr('y', 122).attr('text-anchor', 'middle').style('font-size', '127px').text('0')
svg.append('text').attr('x', 273).attr('y', 852).attr('text-anchor', 'middle').style('font-size', '127px').text('1')

const drawLeader = (sel) => sel
  .attr('x1', (d) => d.line[0]).attr('y1', (d) => d.line[1])
  .attr('x2', (d) => d.line[2]).attr('y2', (d) => d.line[3])
  .attr('stroke', '#000').attr('stroke-width', 4)

svg.append('g').selectAll('line').data(legendRows).join('line').call(drawLeader)
svg.append('g').selectAll('text').data(legendRows).join('text')
  .attr('x', (d) => d.tx).attr('y', (d) => d.ty)
  .style('font-size', '128px')
  .text((d) => d.text)

// gene labels
svg.append('g').selectAll('line').data(genes).join('line').call(drawLeader)
svg.append('g').selectAll('text').data(genes).join('text')
  .attr('x', (d) => d.tx).attr('y', (d) => d.ty)
  .style('font-size', '107px')
  .text((d) => d.name)
</script>
</body>
</html>
